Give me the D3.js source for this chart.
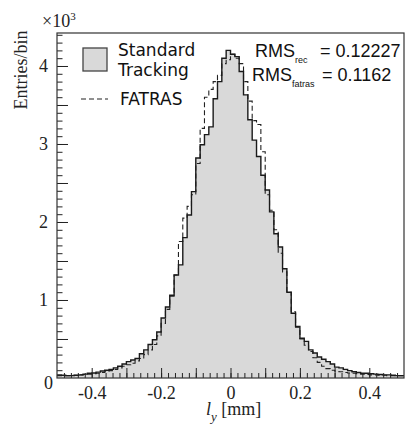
<!DOCTYPE html>
<html>
<head>
<meta charset="utf-8">
<script src="https://cdn.jsdelivr.net/npm/d3@7"></script>
<style>
  body { margin: 0; background: #fff; }
  .tick-label { font-family: "Liberation Serif", serif; font-size: 18px; fill: #222; }
  .legend-text { font-family: "DejaVu Sans", sans-serif; font-size: 17px; fill: #111; }
  .rms-text { font-family: "Liberation Sans", sans-serif; font-size: 18px; fill: #111; }
</style>
</head>
<body>
<svg id="chart"></svg>
<script>
// histogram binning in l_y [mm]
const xRange = [-0.5, 0.5];
const binWidth = 0.0125;

// entries per bin, Standard Tracking (solid, filled)
const standardCounts = [
  40, 35, 30, 30, 35, 40, 50, 60, 65, 75,
  90, 100, 110, 130, 150, 180, 210, 230, 250, 310,
  360, 430, 490, 590, 770, 910, 1060, 1320, 1450, 1800,
  2090, 2390, 2820, 2990, 3120, 3220, 3580, 3800, 4100, 4200,
  4150, 4120, 3930, 3630, 3310, 3050, 2840, 2600, 2410, 2130,
  1850, 1680, 1400, 1100, 830, 660, 510, 470, 360, 320,
  270, 240, 210, 180, 140, 130, 110, 95, 80, 70,
  60, 60, 55, 50, 45, 40, 40, 35, 30, 30
];

// entries per bin, FATRAS (dashed)
const fatrasCounts = [
  30, 30, 30, 35, 35, 40, 45, 50, 55, 60,
  70, 80, 95, 110, 130, 150, 170, 190, 220, 250,
  300, 360, 430, 540, 700, 880, 1050, 1320, 1750, 2050,
  2200, 2350, 2750, 3200, 3600, 3700, 3800, 3880, 4030, 4080,
  4150, 4100, 4030, 3800, 3550, 3300, 3250, 2900, 2350, 2150,
  1900, 1600, 1360, 1100, 850, 650, 500, 420, 340, 260,
  200, 150, 120, 100, 90, 80, 70, 65, 60, 55,
  50, 45, 40, 40, 35, 35, 30, 30, 30, 30
];

const xTickValues = [-0.4, -0.2, 0, 0.2, 0.4];
const yTickValues = [0, 1000, 2000, 3000, 4000];
const yMax = 4423;

const rmsLabels = [
  {name: 'RMS', sub: 'rec', value: '= 0.12227'},
  {name: 'RMS', sub: 'fatras', value: '= 0.1162'}
];

class Histogram {
  constructor(_config) {
    this.config = {
      parentElement: _config.parentElement,
      containerWidth: _config.containerWidth || 405,
      containerHeight: _config.containerHeight || 426,
      margin: _config.margin || {top: 33, right: 1, bottom: 48, left: 57}
    };
    this.initVis();
  }

  initVis() {
    let vis = this;
    vis.width = vis.config.containerWidth - vis.config.margin.left - vis.config.margin.right;
    vis.height = vis.config.containerHeight - vis.config.margin.top - vis.config.margin.bottom;

    vis.xScale = d3.scaleLinear().domain(xRange).range([0, vis.width]);
    vis.yScale = d3.scaleLinear().domain([0, yMax]).range([vis.height, 0]);

    vis.svg = d3.select(vis.config.parentElement)
        .attr('width', vis.config.containerWidth)
        .attr('height', vis.config.containerHeight);

    vis.chart = vis.svg.append('g')
        .attr('transform', `translate(${vis.config.margin.left},${vis.config.margin.top})`);

    vis.updateVis();
  }

  toSteps(counts) {
    // left edge of every bin, plus the closing right edge
    const pts = counts.map((c, i) => [xRange[0] + i * binWidth, c]);
    pts.push([xRange[0] + counts.length * binWidth, counts[counts.length - 1]]);
    return pts;
  }

  updateVis() {
    let vis = this;
    const x = vis.xScale, y = vis.yScale;

    const area = d3.area()
        .x(d => x(d[0])).y0(y(0)).y1(d => y(d[1]))
        .curve(d3.curveStepAfter);
    const line = d3.line()
        .x(d => x(d[0])).y(d => y(d[1]))
        .curve(d3.curveStepAfter);

    vis.chart.append('path')
        .datum(vis.toSteps(standardCounts))
        .attr('fill', '#d9d9d9')
        .attr('d', area);

    vis.chart.append('path')
        .datum(vis.toSteps(fatrasCounts))
        .attr('fill', 'none')
        .attr('stroke', '#222')
        .attr('stroke-width', 1.1)
        .attr('stroke-dasharray', '5,3')
        .attr('d', line);

    vis.chart.append('path')
        .datum(vis.toSteps(standardCounts))
        .attr('fill', 'none')
        .attr('stroke', '#1a1a1a')
        .attr('stroke-width', 1.4)
        .attr('d', line);

    // minor ticks
    const xMinor = d3.range(-0.48, 0.5, 0.02);
    const xMid = d3.range(-0.4, 0.41, 0.1);
    vis.chart.append('g')
        .attr('transform', `translate(0,${vis.height})`)
        .call(d3.axisBottom(x).tickValues(xMinor).tickSize(-5).tickFormat(''))
        .call(g => g.select('.domain').remove());
    vis.chart.append('g')
        .attr('transform', `translate(0,${vis.height})`)
        .call(d3.axisBottom(x).tickValues(xMid).tickSize(-10).tickFormat(''))
        .call(g => g.select('.domain').remove());

    const yMinor = d3.range(100, yMax, 100);
    const yMid = d3.range(500, yMax, 500);
    vis.chart.append('g')
        .call(d3.axisLeft(y).tickValues(yMinor).tickSize(-5.5).tickFormat(''))
        .call(g => g.select('.domain').remove());
    vis.chart.append('g')
        .call(d3.axisLeft(y).tickValues(yMid).tickSize(-11).tickFormat(''))
        .call(g => g.select('.domain').remove());

    // labelled axes
    vis.xAxisG = vis.chart.append('g')
        .attr('transform', `translate(0,${vis.height})`)
        .call(d3.axisBottom(x).tickValues(xTickValues).tickSize(0).tickPadding(8)
          .tickFormat(d => d === 0 ? '0' : d3.format('.1f')(d).replace('−', '-')))
        .call(g => g.select('.domain').remove());
    vis.xAxisG.selectAll('text').attr('class', 'tick-label').attr('font-family', null).attr('font-size', null);

    vis.yAxisG = vis.chart.append('g')
        .call(d3.axisLeft(y).tickValues(yTickValues).tickSize(0).tickPadding(9)
          .tickFormat(d => d / 1000))
        .call(g => g.select('.domain').remove());
    vis.yAxisG.selectAll('text').attr('class', 'tick-label').attr('font-family', null).attr('font-size', null);
    vis.yAxisG.selectAll('text').filter(d => d === 0)
        .attr('x', -4).attr('dy', '0.6em');

    vis.chart.selectAll('.tick line').attr('stroke', '#222');

    // frame
    vis.chart.append('rect')
        .attr('width', vis.width).attr('height', vis.height)
        .attr('fill', 'none').attr('stroke', '#333').attr('stroke-width', 1.2);

    // ×10³
    const exp = vis.svg.append('text').attr('class', 'tick-label').attr('x', 42).attr('y', 27);
    exp.append('tspan').text('×10');
    exp.append('tspan').attr('font-size', 11).attr('dy', -7).text('3');

    // axis titles
    vis.svg.append('text')
        .attr('class', 'tick-label')
        .attr('font-size', 17)
        .attr('transform', 'translate(27,70) rotate(-90)')
        .attr('text-anchor', 'middle')
        .text('Entries/bin');

    const xt = vis.svg.append('text').attr('class', 'tick-label')
        .attr('x', 206).attr('y', 415);
    xt.append('tspan').attr('font-style', 'italic').text('l');
    xt.append('tspan').attr('font-style', 'italic').attr('font-size', 13).attr('dy', 6).text('y');
    xt.append('tspan').attr('dy', -6).text(' [mm]');

    // legend
    vis.svg.append('rect')
        .attr('x', 83).attr('y', 48).attr('width', 24).attr('height', 23)
        .attr('fill', '#d9d9d9').attr('stroke', '#444').attr('stroke-width', 1.3);
    vis.svg.append('text').attr('class', 'legend-text').attr('x', 118).attr('y', 56).text('Standard');
    vis.svg.append('text').attr('class', 'legend-text').attr('x', 118).attr('y', 76).text('Tracking');
    vis.svg.append('line')
        .attr('x1', 81).attr('x2', 108).attr('y1', 99).attr('y2', 99)
        .attr('stroke', '#222').attr('stroke-width', 1.1).attr('stroke-dasharray', '5,3');
    vis.svg.append('text').attr('class', 'legend-text').attr('x', 120).attr('y', 105).text('FATRAS');

    // RMS annotations
    const rmsX = [255, 252];
    const rmsY = [57, 81];
    const valX = [320, 322];
    rmsLabels.forEach((r, i) => {
      const t = vis.svg.append('text').attr('class', 'rms-text').attr('x', rmsX[i]).attr('y', rmsY[i]);
      t.append('tspan').text(r.name);
      t.append('tspan').attr('font-size', 9).attr('dy', 6).text(r.sub);
      t.append('tspan').attr('x', valX[i]).attr('dy', -6).text(r.value);
    });
  }
}

new Histogram({parentElement: '#chart'});
</script>
</body>
</html>
